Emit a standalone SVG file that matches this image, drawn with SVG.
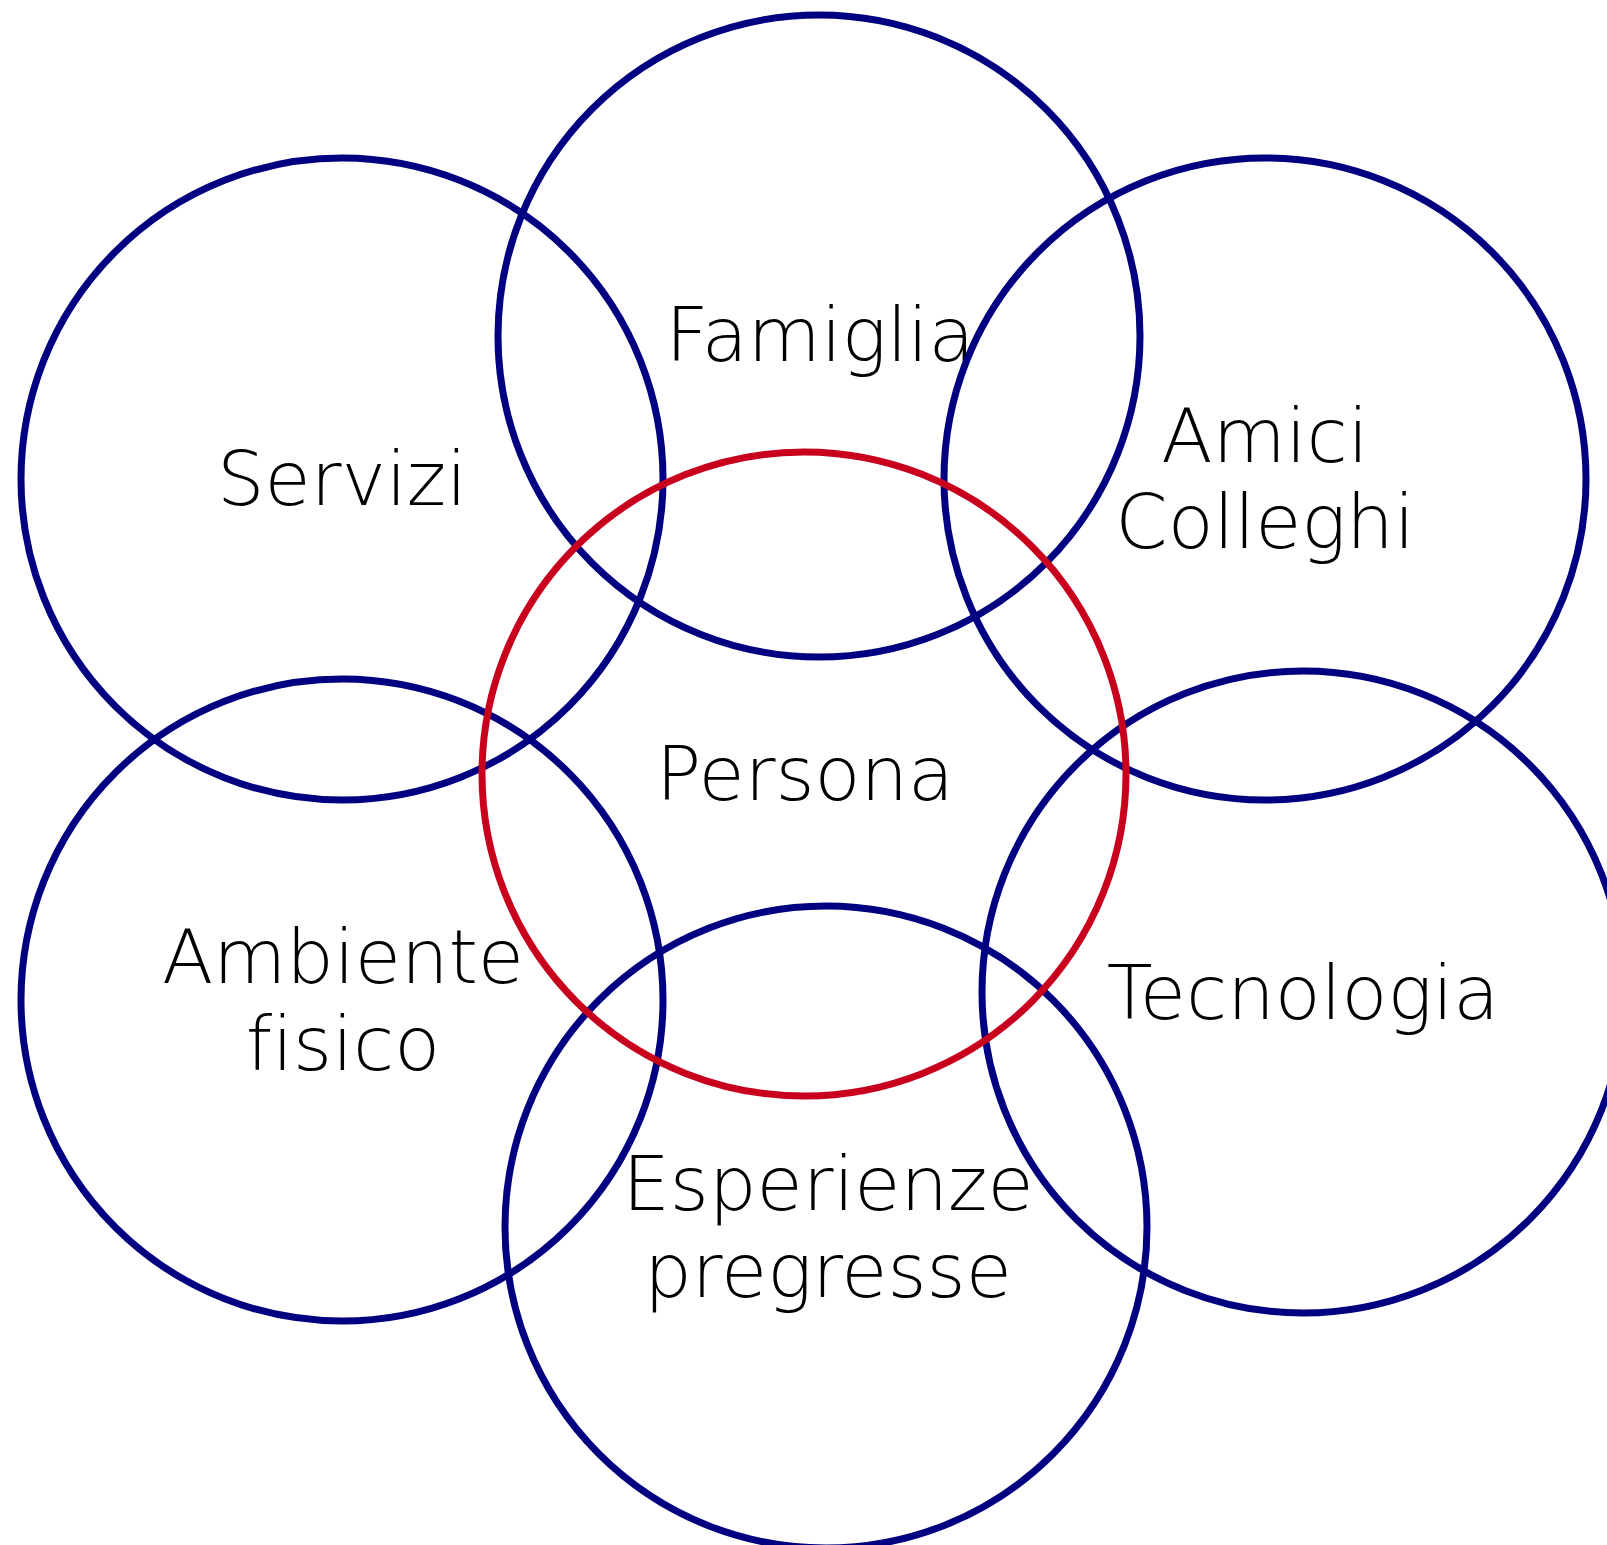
<svg xmlns="http://www.w3.org/2000/svg" width="1607" height="1545" viewBox="0 0 1607 1545">
<style>
.c{fill:none;stroke:#000080;stroke-width:7}
.p{fill:none;stroke:#c8001e;stroke-width:7}
text{font-family:"DejaVu Sans","Liberation Sans",sans-serif;font-weight:200;font-size:75px;fill:#000;text-anchor:middle;font-variant-ligatures:none;font-feature-settings:"liga" 0}
</style>
<rect width="1607" height="1545" fill="#fff"/>
<g id="servizi"><circle class="c" cx="342" cy="479" r="321"/><text x="342" y="505">Servizi</text></g>
<g id="famiglia"><circle class="c" cx="819" cy="336" r="321"/><text x="820" y="361">Famiglia</text></g>
<g id="amici"><circle class="c" cx="1265" cy="479" r="321"/><text x="1265" y="462">Amici</text><text x="1265" y="548">Colleghi</text></g>
<g id="ambiente"><circle class="c" cx="342" cy="1000" r="321"/><text x="343" y="983">Ambiente</text><text x="343" y="1070">fisico</text></g>
<g id="tecnologia"><circle class="c" cx="1303" cy="992" r="321"/><text x="1303" y="1019">Tecnologia</text></g>
<g id="esperienze"><circle class="c" cx="826" cy="1227" r="321"/><text x="828" y="1210">Esperienze</text><text x="828" y="1297">pregresse</text></g>
<g id="persona"><circle class="p" cx="804" cy="774" r="322"/><text x="805" y="800">Persona</text></g>
<g id="connectors"/>
</svg>
